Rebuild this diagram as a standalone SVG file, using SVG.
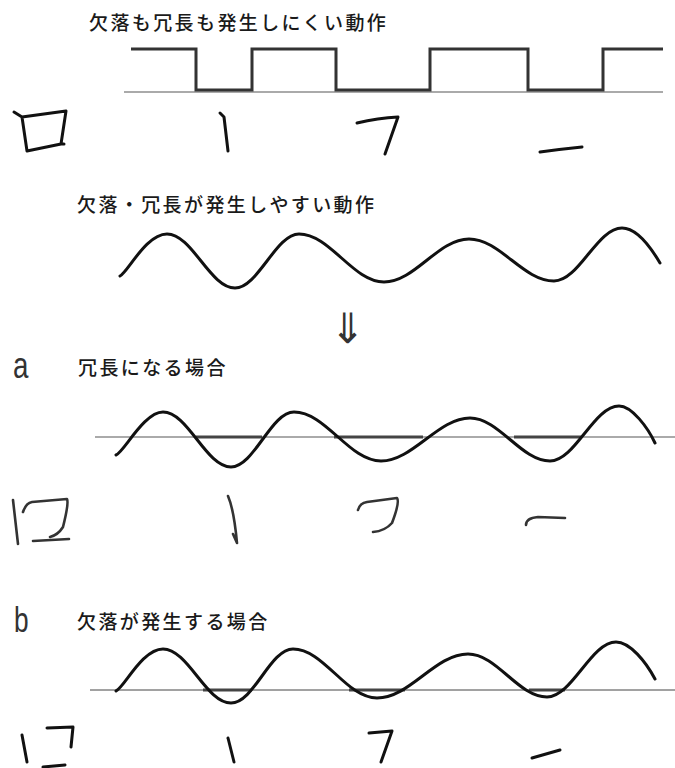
<svg xmlns="http://www.w3.org/2000/svg" width="675" height="768" viewBox="0 0 675 768">
<style>
.t{font-family:"Noto Sans CJK JP","Noto Sans CJK SC",sans-serif;font-size:19px;font-weight:500;letter-spacing:2.4px;fill:#1a1a1a}
.lt{font-family:"Liberation Sans",Arial,sans-serif;fill:#333}
.sq{fill:none;stroke:#333;stroke-width:3;stroke-linejoin:miter}
.base{fill:none;stroke:#aaa;stroke-width:2}
.thin{fill:none;stroke:#444;stroke-width:1}
.dk{fill:none;stroke:#444;stroke-width:3}
.wave{fill:none;stroke:#111;stroke-width:3;stroke-linecap:round}
.hw{fill:none;stroke:#111;stroke-width:3;stroke-linecap:round;stroke-linejoin:round}
.hw2{fill:none;stroke:#333;stroke-width:2.6;stroke-linecap:round;stroke-linejoin:round}
</style>

<g id="section-top">
  <text class="t" x="89" y="30">欠落も冗長も発生しにくい動作</text>
  <line class="base" x1="124" y1="92" x2="663" y2="92"/>
  <path class="sq" d="M131,49 H196 V90 H252 V49 H336 V90 H430 V49 H528 V90 H603 V49 H663"/>
</g>

<g id="handwriting-top">
  <path class="hw" d="M14,112 L22,117 L27,151 M22,117 L66,111 L61,144 L27,151 M61,144 L64,144"/>
  <path class="hw" d="M220,113 L224,117 L228,151"/>
  <path class="hw" d="M357,123 Q378,118 398,117 L385,154"/>
  <path class="hw" d="M540,152 Q562,149 582,147"/>
</g>

<g id="section-wave">
  <text class="t" x="77" y="212">欠落・冗長が発生しやすい動作</text>
  <path class="wave" d="M120,276 C128,272 146,234 167,234 C192,234 210,288 235,288 C258,288 276,234 299,234 C330,234 353,282 384,282 C415,282 438,239 469,239 C500,239 523,281 554,281 C579,281 597,228 622,228 C636,228 650,246 660,263"/>
</g>

<g id="arrow">
  <text x="347" y="343" text-anchor="middle" style="font-family:'Noto Sans CJK JP','DejaVu Sans',sans-serif;font-size:42px;font-weight:300;fill:#333">⇓</text>
</g>

<g id="case-a">
  <text class="lt" x="0" y="378" transform="translate(13,0) scale(0.75,1)" style="font-size:37px">a</text>
  <text class="t" x="78" y="375">冗長になる場合</text>
  <line class="base" x1="95" y1="437" x2="675" y2="437"/>
  <path class="dk" d="M196,437 H262 M334,437 H423 M514,437 H581"/>
  <path class="wave" d="M116,455 C124,452 144,412 163,412 C188,412 206,467 231,467 C254,467 271,412 294,412 C326,412 349,461 381,461 C413,461 438,418 470,418 C499,418 521,461 550,461 C575,461 594,406 619,406 C632,406 648,428 655,443"/>
</g>

<g id="handwriting-a">
  <path class="hw2" d="M13,500 L18,544"/>
  <path class="hw2" d="M23,512 Q26,503 32,502 L67,499 Q69,503 63,527 Q58,535 50,537 M33,541 L69,539"/>
  <path class="hw2" d="M228,496 Q234,510 237,543 M233,534 L237,543"/>
  <path class="hw2" d="M358,510 Q360,503 367,502 L397,498 Q400,502 392,523 Q385,531 373,532"/>
  <path class="hw2" d="M526,525 Q526,518 538,517 L565,518"/>
</g>

<g id="case-b">
  <text class="lt" x="0" y="632" transform="translate(14,0) scale(0.75,1)" style="font-size:35px">b</text>
  <text class="t" x="77" y="629">欠落が発生する場合</text>
  <line class="thin" x1="90" y1="690" x2="675" y2="690"/>
  <path class="dk" d="M203,690 H252 M349,690 H405 M529,690 H565"/>
  <path class="wave" d="M116,691 C124,688 142,649 163,649 C188,649 206,703 231,703 C254,703 270,649 293,649 C324,649 346,698 377,698 C410,698 435,654 468,654 C497,654 518,697 547,697 C572,697 591,642 616,642 C630,642 646,662 655,679"/>
</g>

<g id="handwriting-b">
  <path class="hw" d="M22,735 L27,762"/>
  <path class="hw" d="M47,728 L73,727 L71,747 M43,767 L65,765"/>
  <path class="hw" d="M228,738 L234,762"/>
  <path class="hw" d="M369,733 L392,731 L381,762"/>
  <path class="hw" d="M532,758 L560,750"/>
</g>
</svg>
